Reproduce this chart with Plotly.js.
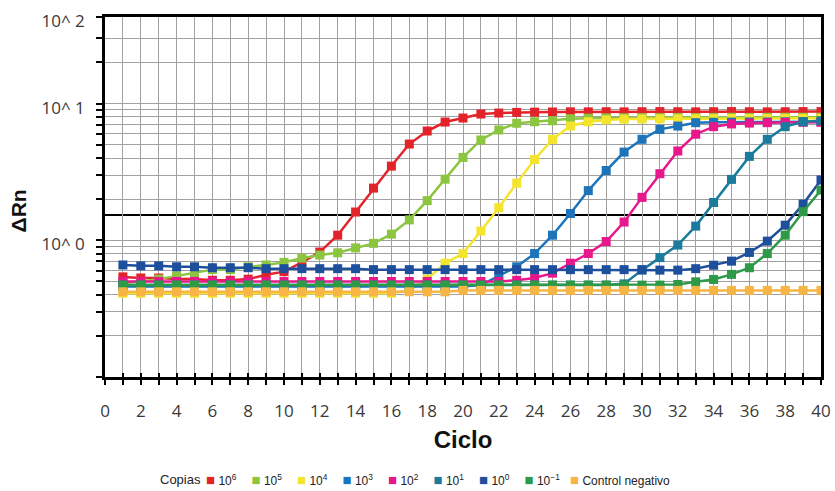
<!DOCTYPE html>
<html>
<head>
<meta charset="utf-8">
<script src="https://cdn.plot.ly/plotly-3.0.1.min.js"></script>
<style>
  html, body { margin: 0; padding: 0; background: #ffffff; }
  #chart { width: 835px; height: 491px; }
</style>
</head>
<body>
<div id="chart"></div>
<script>
// ---- data ----
const cycles = [1,2,3,4,5,6,7,8,9,10,11,12,13,14,15,16,17,18,19,20,21,22,23,24,25,26,27,28,29,30,31,32,33,34,35,36,37,38,39,40];

const copies1e6 = [0.54,0.53,0.53,0.52,0.52,0.51,0.51,0.52,0.56,0.59,0.69,0.82,1.09,1.61,2.41,3.49,5.06,6.30,7.33,7.84,8.39,8.53,8.62,8.66,8.68,8.70,8.70,8.72,8.70,8.72,8.74,8.72,8.70,8.72,8.74,8.72,8.70,8.72,8.74,8.74];
const copies1e5 = [0.49,0.50,0.52,0.55,0.58,0.61,0.61,0.64,0.66,0.69,0.74,0.78,0.81,0.88,0.95,1.11,1.41,1.95,2.80,4.04,5.42,6.41,7.18,7.37,7.49,7.75,7.82,7.86,7.88,7.90,7.90,7.92,7.90,7.92,7.94,7.92,7.94,7.95,7.95,7.96];
const copies1e4 = [0.41,0.41,0.41,0.41,0.41,0.41,0.41,0.41,0.41,0.41,0.41,0.41,0.41,0.41,0.41,0.41,0.43,0.52,0.68,0.80,1.17,1.73,2.62,3.90,5.48,6.86,7.37,7.60,7.70,7.72,7.74,7.74,7.76,7.76,7.78,7.78,7.78,7.80,7.80,7.80];
const copies1e3 = [0.46,0.46,0.46,0.46,0.46,0.46,0.46,0.46,0.46,0.46,0.46,0.46,0.46,0.46,0.46,0.46,0.46,0.46,0.46,0.46,0.47,0.55,0.64,0.80,1.09,1.57,2.31,3.24,4.42,5.48,6.48,6.85,7.25,7.30,7.32,7.34,7.34,7.36,7.36,7.38];
const copies1e2 = [0.50,0.50,0.50,0.50,0.50,0.50,0.50,0.50,0.50,0.50,0.50,0.50,0.50,0.50,0.50,0.50,0.50,0.50,0.50,0.50,0.50,0.50,0.51,0.53,0.575,0.68,0.80,0.98,1.36,2.06,3.07,4.50,5.97,6.78,7.10,7.20,7.25,7.28,7.30,7.30];
const copies1e1 = [0.47,0.47,0.47,0.47,0.47,0.47,0.47,0.47,0.47,0.47,0.47,0.47,0.47,0.47,0.47,0.47,0.47,0.47,0.47,0.47,0.47,0.47,0.47,0.47,0.47,0.47,0.47,0.47,0.48,0.605,0.747,0.923,1.27,1.89,2.79,4.11,5.48,6.78,7.37,7.50];
const copies1e0 = [0.66,0.65,0.65,0.64,0.64,0.63,0.63,0.63,0.62,0.62,0.62,0.62,0.62,0.62,0.61,0.61,0.61,0.61,0.61,0.61,0.61,0.61,0.61,0.61,0.61,0.61,0.61,0.61,0.61,0.61,0.605,0.605,0.62,0.657,0.704,0.815,0.986,1.29,1.84,2.76];
const copies1em1 = [0.47,0.47,0.47,0.47,0.47,0.47,0.47,0.47,0.47,0.47,0.47,0.47,0.47,0.47,0.47,0.47,0.47,0.47,0.47,0.47,0.47,0.47,0.47,0.47,0.47,0.47,0.47,0.47,0.47,0.47,0.47,0.475,0.497,0.517,0.563,0.63,0.80,1.09,1.62,2.33];
const controlNeg = [0.42,0.42,0.42,0.42,0.42,0.42,0.42,0.42,0.42,0.42,0.42,0.42,0.42,0.42,0.42,0.42,0.42,0.42,0.42,0.43,0.43,0.43,0.43,0.43,0.43,0.43,0.43,0.43,0.43,0.43,0.43,0.43,0.43,0.43,0.43,0.43,0.43,0.43,0.43,0.43];

const threshold = 1.53;

const seriesLabels = ["10<sup>6</sup>","10<sup>5</sup>","10<sup>4</sup>","10<sup>3</sup>","10<sup>2</sup>","10<sup>1</sup>","10<sup>0</sup>","10<sup>\u22121</sup>","Control negativo"];
const seriesValues = [copies1e6, copies1e5, copies1e4, copies1e3, copies1e2, copies1e1, copies1e0, copies1em1, controlNeg];
const seriesColors = ["#e3232a","#8cc540","#f4e42c","#1d74bb","#e8178b","#1a7b9d","#1d4f9d","#2e9a48","#f6b545"];
const legendTitle = "Copias";

// axis ticks
const yBottom = 0.1;
const yTop = 43;
const yMajorVals = [1, 10, yTop];
const yMajorText = ["10^ 0", "10^ 1", "10^ 2"];
const yMinorVals = [0.1,0.2,0.3,0.4,0.5,0.6,0.7,0.8,0.9,2,3,4,5,6,7,8,9,20,30];

// ---- traces ----
const traces = [];
seriesValues.forEach((vals, i) => {
  traces.push({
    x: cycles, y: vals, type: "scatter", mode: "lines+markers",
    name: seriesLabels[i], legendgroup: "g" + i, showlegend: false,
    line: { color: seriesColors[i], width: 2.5 },
    marker: { color: seriesColors[i], symbol: "square", size: 9 }
  });
});
// legend entries: coloured square right before each label, as in the reference.
// They live on the overlaid x2 axis that carries the inner half of the cross ticks.
seriesValues.forEach((vals, i) => {
  traces.push({
    x: [null], y: [null], xaxis: "x2", yaxis: "y", type: "scatter", mode: "markers",
    name: '<span style="color:' + seriesColors[i] + ';font-size:15px">\u25A0</span> ' + seriesLabels[i],
    legendgroup: "g" + i, showlegend: true,
    legendwidth: (i === seriesValues.length - 1) ? 115 : undefined,
    marker: { color: "rgba(0,0,0,0)", symbol: "square", size: 1 }
  });
});

const tickFont = { family: "Open Sans, DejaVu Sans, sans-serif", size: 17, color: "#3a3a3a" };
const gridColor = "#a0a0a0";
const legendFont = { family: "Liberation Sans, Arial, sans-serif", size: 12, color: "#222" };

const layout = {
  width: 835, height: 491,
  margin: { l: 105, r: 14, t: 17, b: 114, autoexpand: false },
  paper_bgcolor: "#ffffff", plot_bgcolor: "#ffffff",
  showlegend: true,
  xaxis: {
    range: [0, 40], tickmode: "linear", tick0: 0, dtick: 2,
    ticks: "outside", ticklen: 5, tickwidth: 1.5, tickcolor: "#000",
    showgrid: true, gridcolor: gridColor, gridwidth: 1.2, zeroline: false,
    minor: { tickmode: "linear", tick0: 0, dtick: 1, ticks: "outside", ticklen: 5, tickwidth: 1.5, tickcolor: "#000",
             showgrid: true, gridcolor: gridColor, gridwidth: 1.2 },
    showline: true, linecolor: "#000", linewidth: 2.5, mirror: true,
    tickfont: tickFont, ticklabelstandoff: 12,
    title: { text: "<b>Ciclo</b>", font: { family: "Liberation Sans, Arial, sans-serif", size: 24, color: "#111" }, standoff: 11 }
  },
  xaxis2: {
    overlaying: "x", anchor: "y", side: "bottom", range: [0, 40],
    tickmode: "linear", tick0: 0, dtick: 1, showticklabels: false,
    ticks: "inside", ticklen: 4, tickwidth: 1.5, tickcolor: "#000",
    showgrid: false, zeroline: false, showline: false
  },
  yaxis: {
    type: "log", range: [Math.log10(yBottom), Math.log10(yTop)],
    tickmode: "array", tickvals: yMajorVals, ticktext: yMajorText,
    ticks: "outside", ticklen: 6, tickwidth: 1.5, tickcolor: "#000",
    showgrid: true, gridcolor: gridColor, gridwidth: 1.2, zeroline: false,
    minor: { tickmode: "array", tickvals: yMinorVals, ticks: "outside", ticklen: 6, tickwidth: 1.5, tickcolor: "#000",
             showgrid: true, gridcolor: gridColor, gridwidth: 1.2 },
    showline: true, linecolor: "#000", linewidth: 2.5, mirror: true,
    tickfont: tickFont, ticklabelstandoff: 8, ticklabelshift: 4
  },
  annotations: [{
    text: "<b>\u0394Rn</b>", textangle: -90, showarrow: false,
    xref: "paper", yref: "paper", x: -0.121, y: 0.461, xanchor: "center", yanchor: "middle",
    font: { family: "Liberation Sans, Arial, sans-serif", size: 21, color: "#111" }
  }, {
    text: legendTitle, showarrow: false,
    xref: "paper", yref: "paper", x: 0.1369, y: -0.286, xanchor: "right", yanchor: "middle",
    font: { family: "Liberation Sans, Arial, sans-serif", size: 13, color: "#222" }
  }],
  shapes: [{
    type: "line", xref: "paper", x0: 0, x1: 1, yref: "y", y0: threshold, y1: threshold,
    line: { color: "#000", width: 2 }, layer: "between"
  }],
  legend: {
    orientation: "h", x: 0.0852, xanchor: "left", y: -0.286, yanchor: "middle",
    font: legendFont,
    entrywidth: 0.5, bgcolor: "rgba(0,0,0,0)", borderwidth: 0
  }
};

Plotly.newPlot("chart", traces, layout, { displayModeBar: false });
</script>
</body>
</html>
